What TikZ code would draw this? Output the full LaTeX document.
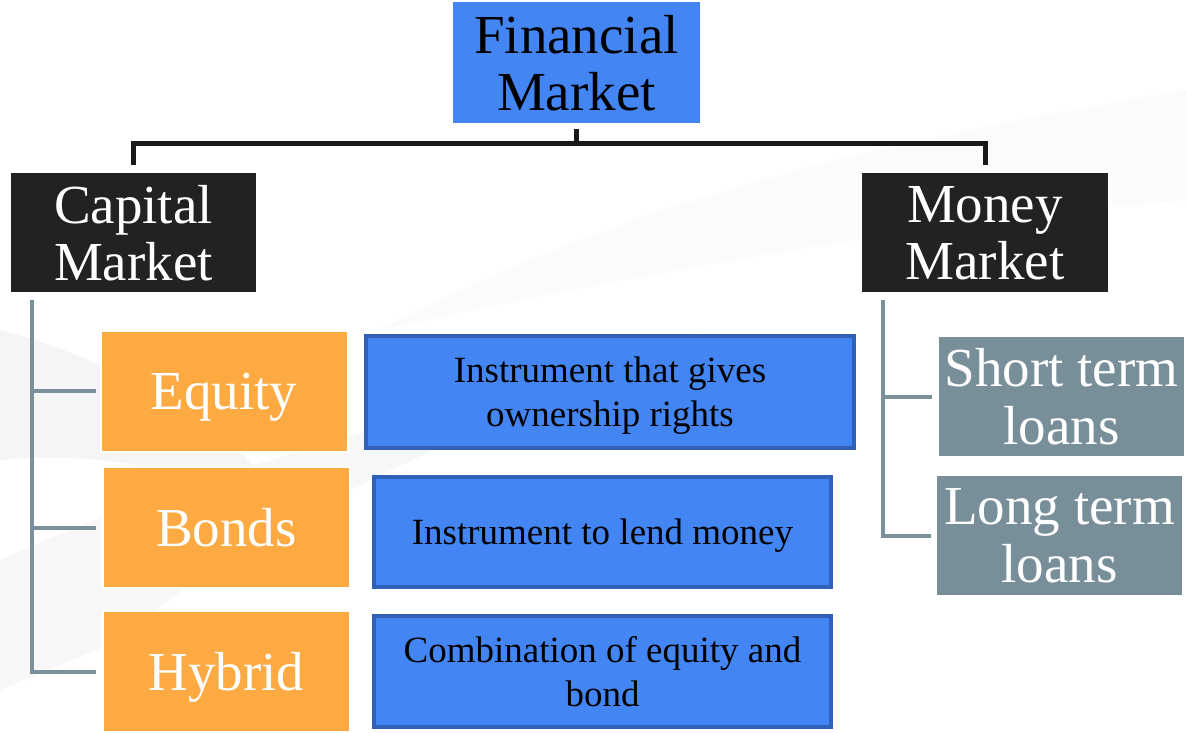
\documentclass[tikz,border=0pt]{standalone}
\usepackage{fontspec}
\setmainfont{Liberation Serif}
\usetikzlibrary{calc}

\definecolor{fmblue}{RGB}{67,133,243}
\definecolor{fmblueedge}{RGB}{48,96,183}
\definecolor{fmdark}{RGB}{34,34,34}
\definecolor{fmorange}{RGB}{253,170,66}
\definecolor{fmslate}{RGB}{120,143,154}
\definecolor{fmline}{RGB}{122,144,155}

\tikzset{
  bigtext/.style={font=\fontsize{55}{57}\selectfont, align=center, inner sep=0pt, text depth=0pt},
  topbox/.style={bigtext, fill=fmblue, text=black, minimum width=247pt, minimum height=121pt},
  marketbox/.style={bigtext, fill=fmdark, text=white, draw=white, line width=1.5pt, minimum width=247pt, minimum height=121pt},
  typebox/.style={bigtext, fill=fmorange, text=white, draw=white, line width=2pt, minimum width=247pt, minimum height=121pt},
  loanbox/.style={bigtext, font=\fontsize{55}{58}\selectfont, fill=fmslate, text=white, draw=white, line width=2pt, minimum width=247pt, minimum height=121pt},
  descbox/.style={font=\fontsize{37}{44}\selectfont, align=center, inner sep=0pt, text depth=0pt, fill=fmblue, draw=fmblueedge, line width=4pt, text=black},
  busline/.style={draw=black!90, line width=5pt},
  branchline/.style={draw=fmline, line width=4pt},
}

\begin{document}
\begin{tikzpicture}[x=1pt,y=-1pt]
  % page frame
  \useasboundingbox (0,0) rectangle (1186,732);
  \fill[white] (0,0) rectangle (1186,732);

  % faint background swooshes
  \fill[black!3] (0,560) .. controls (200,470) and (420,420) .. (700,330)
        .. controls (500,420) and (250,520) .. (120,640) -- (0,690) -- cycle;
  \fill[black!1.5] (380,330) .. controls (650,190) and (900,140) .. (1186,90)
        -- (1186,200) .. controls (950,220) and (700,260) .. (380,330) -- cycle;
  \fill[black!4] (0,330) .. controls (120,360) and (250,440) .. (300,520)
        .. controls (200,470) and (100,450) .. (0,460) -- cycle;

  % top level
  \node[topbox] (fin) at (576.5,62.5) {Financial\\Market};

  % market types
  \node[marketbox] (cap) at (133.5,232.5) {Capital\\Market};
  \node[marketbox] (mon) at (985,232.5) {Money\\Market};

  % capital market instruments
  \node[typebox] (equ) at (224,391) {Equity};
  \node[typebox] (bon) at (226.5,527.5) {Bonds};
  \node[typebox] (hyb) at (226.5,671.5) {Hybrid};

  % descriptions
  \node[descbox, minimum width=488pt, minimum height=112pt] (dequ) at (610,392)
       {Instrument that gives\\ownership rights};
  \node[descbox, minimum width=457pt, minimum height=110pt] (dbon) at (602.5,532)
       {Instrument to lend money};
  \node[descbox, minimum width=457pt, minimum height=111pt] (dhyb) at (602.5,671.5)
       {Combination of equity and\\bond};

  % money market instruments
  \node[loanbox] (sho) at (1061.5,396.5) {Short term\\loans};
  \node[loanbox] (lon) at (1059.5,535.5) {Long term\\loans};

  % bus from the top box to both markets
  \coordinate (bus) at (576.5,143);
  \draw[busline, shorten <=6pt] (fin.south) -- (bus);
  \draw[busline, shorten <=6pt, shorten >=6pt] (cap.north) |- (bus) -| (mon.north);

  % capital market tree
  \coordinate (capTrunk) at (32,300);
  \draw[branchline, shorten >=6pt] (capTrunk) |- (hyb.west);
  \draw[branchline, shorten >=4pt] (capTrunk |- equ.west) -- (equ.west);
  \draw[branchline, shorten >=6pt] (capTrunk |- bon.west) -- (bon.west);

  % money market tree
  \coordinate (monTrunk) at (883,300);
  \draw[branchline, shorten >=4pt] (monTrunk) |- (lon.west);
  \draw[branchline, shorten >=5pt] (monTrunk |- sho.west) -- (sho.west);
\end{tikzpicture}
\end{document}
